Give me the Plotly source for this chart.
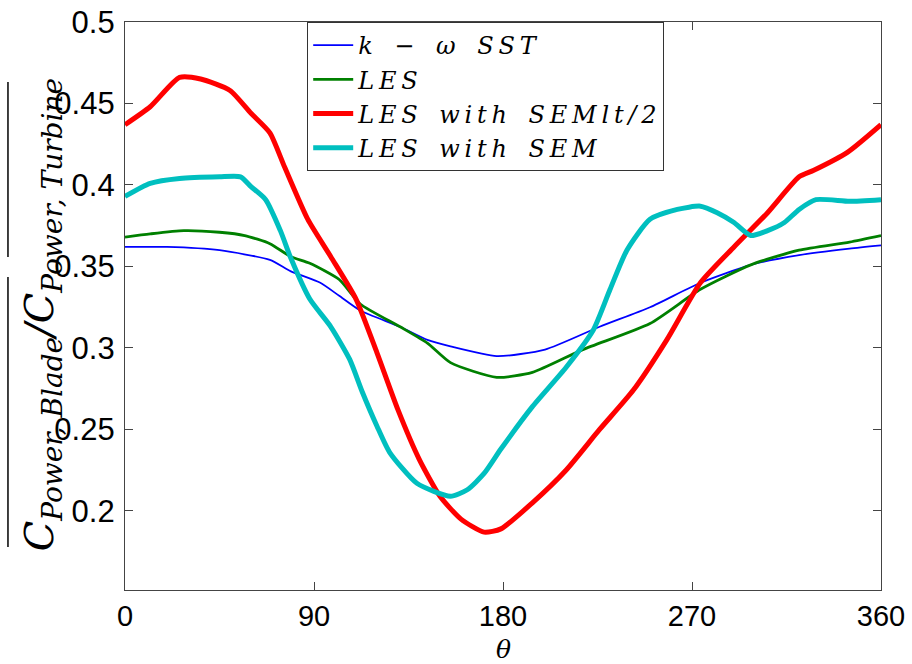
import plotly.graph_objects as go

# k-omega SST
theta_sst = [0, 20, 45, 69, 79, 93, 102, 112, 131, 144, 155, 177, 200, 226, 250, 274, 298, 321, 345, 360]
sst = [0.362, 0.362, 0.360, 0.354, 0.347, 0.340, 0.332, 0.323, 0.313, 0.305, 0.301, 0.295, 0.299, 0.313, 0.325, 0.340, 0.351, 0.357, 0.361, 0.363]

# LES
theta_les = [0, 12, 28, 45, 57, 69, 79, 88, 102, 112, 131, 144, 155, 177, 194, 218, 250, 274, 298, 321, 345, 360]
les = [0.368, 0.370, 0.372, 0.371, 0.369, 0.364, 0.356, 0.352, 0.342, 0.327, 0.313, 0.303, 0.291, 0.282, 0.285, 0.299, 0.315, 0.336, 0.351, 0.360, 0.365, 0.369]

# LES with SEMlt/2
theta_half = [0, 12, 26, 36, 50, 60, 69, 76, 87, 98, 110, 120, 130, 140, 150, 160, 171, 179, 194, 210, 226, 242, 258, 274, 290, 306, 321, 328, 344, 360]
half = [0.437, 0.448, 0.466, 0.465, 0.458, 0.444, 0.432, 0.411, 0.379, 0.356, 0.330, 0.297, 0.262, 0.232, 0.209, 0.195, 0.187, 0.189, 0.205, 0.225, 0.250, 0.274, 0.305, 0.340, 0.362, 0.383, 0.405, 0.409, 0.420, 0.437]

# LES with SEM
theta_sem = [0, 12, 26, 45, 55, 60, 67, 74, 79, 88, 98, 107, 113, 120, 126, 139, 155, 163, 171, 179, 194, 210, 223, 231, 239, 250, 263, 274, 282, 290, 298, 306, 314, 321, 329, 345, 360]
sem = [0.393, 0.401, 0.404, 0.405, 0.405, 0.399, 0.391, 0.372, 0.355, 0.330, 0.313, 0.293, 0.273, 0.252, 0.236, 0.217, 0.209, 0.213, 0.223, 0.238, 0.264, 0.288, 0.311, 0.336, 0.360, 0.379, 0.385, 0.387, 0.383, 0.377, 0.369, 0.372, 0.377, 0.385, 0.391, 0.390, 0.391]

series_names = ["k − ω SST", "LES", "LES with SEMlt/2", "LES with SEM"]

x_ticks = [0, 90, 180, 270, 360]
y_ticks = [0.2, 0.25, 0.3, 0.35, 0.4, 0.45, 0.5]
y_tick_text = ["0.2", "0.25", "0.3", "0.35", "0.4", "0.45", "0.5"]

serif = "DejaVu Serif"
sans = "Liberation Sans"


def mathy(s):
    # widen letter spacing like TeX math italic
    return "<i>" + "\u2009".join(s.replace(" ", "\u2002")) + "</i>"


fig = go.Figure()
fig.add_trace(go.Scatter(x=theta_sst, y=sst, mode="lines", name=mathy(series_names[0]),
                         line=dict(color="rgb(0,0,255)", width=1.8, shape="spline", smoothing=0.6)))
fig.add_trace(go.Scatter(x=theta_les, y=les, mode="lines", name=mathy(series_names[1]),
                         line=dict(color="rgb(0,128,0)", width=2.8, shape="spline", smoothing=0.6)))
fig.add_trace(go.Scatter(x=theta_half, y=half, mode="lines", name=mathy(series_names[2]),
                         line=dict(color="rgb(255,0,0)", width=5, shape="spline", smoothing=0.6)))
fig.add_trace(go.Scatter(x=theta_sem, y=sem, mode="lines", name=mathy(series_names[3]),
                         line=dict(color="rgb(0,191,191)", width=5, shape="spline", smoothing=0.6)))

ylab = '<i>C<sub>Power, Blade</sub>/C<sub>Power, Turbine</sub></i>'

fig.add_annotation(text=ylab, textangle=-90, xref="paper", yref="paper",
                   x=-0.110, y=0.485, xanchor="center", yanchor="middle", showarrow=False,
                   font=dict(family=serif, size=40, color="black"))

fig.add_annotation(text="<i>θ</i>", xref="paper", yref="paper",
                   x=0.5, y=-0.104, xanchor="center", yanchor="middle", showarrow=False,
                   font=dict(family=serif, size=25, color="black"))

# overlines of the y label
fig.add_shape(type="line", xref="paper", yref="paper", x0=-0.1548, x1=-0.1548, y0=0.5863, y1=0.8944,
              line=dict(color="black", width=1.5))
fig.add_shape(type="line", xref="paper", yref="paper", x0=-0.1548, x1=-0.1548, y0=0.0757, y1=0.5511,
              line=dict(color="black", width=1.5))

fig.update_layout(
    width=912, height=664,
    margin=dict(l=125, r=31, t=22, b=74),
    paper_bgcolor="white", plot_bgcolor="white",
    showlegend=True,
    legend=dict(x=0.241, y=1.0, xanchor="left", yanchor="top",
                bgcolor="white", bordercolor="#333", borderwidth=1,
                font=dict(family=serif, size=24, color="black"),
                itemwidth=40, tracegroupgap=0),
    xaxis=dict(range=[0, 360], tickvals=x_ticks, ticktext=[str(v) for v in x_ticks],
               ticks="inside", ticklen=8, tickcolor="#444", showgrid=False, zeroline=False,
               showline=True, linecolor="#444", linewidth=1.2, mirror="ticks", automargin=False,
               tickfont=dict(family=sans, size=29, color="black")),
    yaxis=dict(range=[0.1515, 0.5], tickvals=y_ticks, ticktext=y_tick_text,
               ticks="inside", ticklen=8, tickcolor="#444", showgrid=False, zeroline=False,
               showline=True, linecolor="#444", linewidth=1.2, mirror="ticks", automargin=False,
               ticklabelstandoff=3,
               tickfont=dict(family=sans, size=31, color="black")),
)

fig.write_html("out.html", config={"displayModeBar": False},
               post_script="document.body.style.margin='0';document.body.style.overflow='hidden';")
